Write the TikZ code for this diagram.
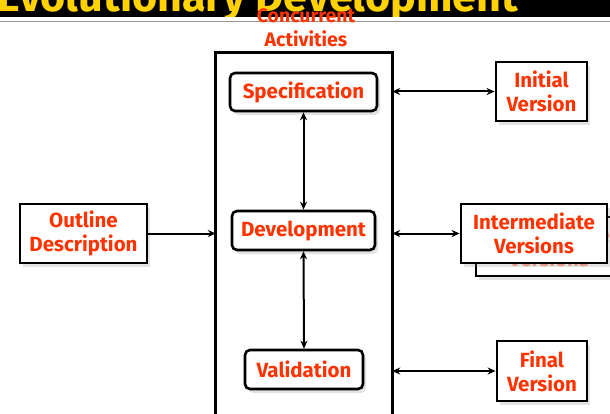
\documentclass[tikz,border=0pt]{standalone}
\usepackage{fontspec}
\setmainfont{Fira Sans}
\usetikzlibrary{arrows.meta,shadows,calc}
\definecolor{labelred}{RGB}{255,51,0}
\definecolor{titleyellow}{RGB}{255,210,0}
\definecolor{rulegray}{RGB}{150,150,150}
\tikzset{
  boxshadow/.style={drop shadow={opacity=0.22,shadow xshift=3pt,shadow yshift=-4pt}},
  actbox/.style={draw,line width=2.6pt,rounded corners=5pt,fill=white,
    text=labelred,font=\bfseries\fontsize{20.5}{22}\selectfont,inner sep=0pt,boxshadow},
  docbox/.style={draw,line width=2.8pt,fill=white,text=labelred,align=center,
    font=\bfseries\fontsize{20.5}{24}\selectfont,inner sep=0pt,boxshadow},
  link/.style={line width=2pt,{Stealth[length=8pt,width=7pt]}-{Stealth[length=8pt,width=7pt]}},
  feed/.style={line width=2pt,-{Stealth[length=8pt,width=7pt]}}
}
\begin{document}
\begin{tikzpicture}[x=1pt,y=-1pt]
\useasboundingbox (0,0) rectangle (610,414);
\fill[white] (0,0) rectangle (610,414);
% title band with the heading running off its top edge
\fill[black] (0,0) rectangle (610,17);
\begin{scope}
  \clip (0,0) rectangle (610,17);
  \node[anchor=base west,inner sep=0pt,text=titleyellow] (title) at (-3,11.5)
    {\resizebox{521pt}{!}{\fontseries{sb}\selectfont Evolutionary Development}};
\end{scope}
\draw[rulegray,line width=1.4pt] (0,21.5) -- (610,21.5);
% container of the concurrent activities (open at the bottom)
\node[minimum width=176pt,minimum height=380pt,inner sep=0pt] (conc) at (304,243) {};
\draw[line width=2.8pt] (conc.south west) -- (conc.north west) -- (conc.north east) -- (conc.south east);
\node[text=labelred,align=center,font=\bfseries\fontsize{19.5}{24}\selectfont] (conclabel) at (306,28)
  {Concurrent\\Activities};
% activities
\node[actbox,minimum width=147pt,minimum height=38pt] (spec) at (303.5,92) {Specification};
\node[actbox,minimum width=143pt,minimum height=39pt] (dev) at (303.5,230.5) {Development};
\node[actbox,minimum width=118pt,minimum height=39pt] (val) at (304,369.5) {Validation};
% inputs and outputs
\node[docbox,minimum width=127pt,minimum height=59pt] (outline) at (83.5,233.5) {Outline\\Description};
\node[docbox,minimum width=91pt,minimum height=59pt] (init) at (541.5,91.5) {Initial\\Version};
\node[docbox,minimum width=146pt,minimum height=59pt,text=labelred!45] (interback) at (549,246.5) {Intermediate\\Versions};
\node[docbox,minimum width=146pt,minimum height=59pt] (inter) at (534,233.5) {Intermediate\\Versions};
\node[docbox,minimum width=90pt,minimum height=60pt] (final) at (542,371) {Final\\Version};
% connectors
\draw[link] (spec.south) -- (dev.north);
\draw[link] (dev.south) -- (val.north);
\draw[feed] (outline.east) -- (conc.west |- outline.east);
\draw[link] (conc.east |- init.west) -- (init.west);
\draw[link] (conc.east |- inter.west) -- (inter.west);
\draw[link] (conc.east |- final.west) -- (final.west);
\end{tikzpicture}
\end{document}
